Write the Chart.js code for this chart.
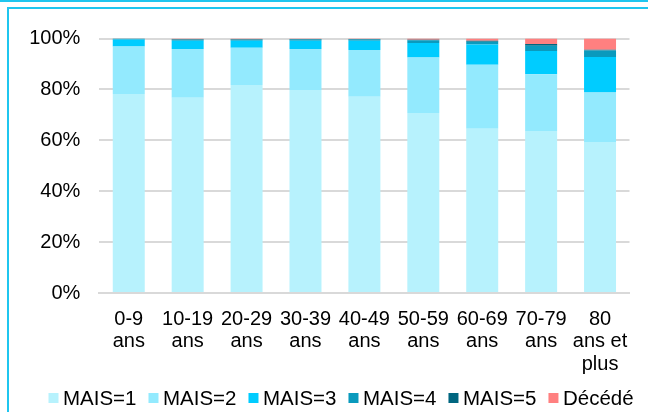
<!DOCTYPE html>
<html>
<head>
<meta charset="utf-8">
<script src="https://cdn.jsdelivr.net/npm/chart.js@4/dist/chart.umd.min.js"></script>
<style>
  html, body { margin: 0; padding: 0; background: #fff; width: 648px; height: 412px; overflow: hidden; }
  #topline { position: absolute; left: 0; top: 0; width: 648px; height: 2px; background: #1fc6ef; }
  #frame { position: absolute; left: 7px; top: 7px; width: 700px; height: 500px; border-left: 2px solid #1fc6ef; border-top: 2px solid #1fc6ef; }
  #c { position: absolute; left: 0; top: 0; }
</style>
</head>
<body>
<div id="topline"></div>
<div id="frame"></div>
<canvas id="c" width="648" height="412"></canvas>
<script>
const categories = [["0-9","ans"],["10-19","ans"],["20-29","ans"],["30-39","ans"],["40-49","ans"],["50-59","ans"],["60-69","ans"],["70-79","ans"],["80","ans et","plus"]];
const seriesNames = ["MAIS=1","MAIS=2","MAIS=3","MAIS=4","MAIS=5","Décédé"];
const mais1   = [78.2, 76.7, 81.7, 79.8, 77.1, 70.7, 64.5, 63.7, 59.3];
const mais2   = [18.7, 19.2, 14.7, 16.1, 18.4, 21.8, 25.2, 22.3, 19.5];
const mais3   = [2.7, 3.2, 2.7, 3.2, 3.6, 5.7, 7.9, 9.1, 13.9];
const mais4   = [0.3, 0.4, 0.4, 0.5, 0.5, 1.1, 1.1, 2.1, 2.6];
const mais5   = [0.1, 0.2, 0.2, 0.2, 0.2, 0.2, 0.4, 0.6, 0.3];
const decede  = [0.0, 0.3, 0.3, 0.2, 0.2, 0.5, 0.9, 2.2, 4.4];
const yTicks = [0, 20, 40, 60, 80, 100];

const colors = ["#b7f2fd", "#93eafe", "#00ccff", "#0a9abd", "#006680", "#ff8080"];
const values = [mais1, mais2, mais3, mais4, mais5, decede];

const fontFamily = "'Liberation Sans', Arial, sans-serif";
const font = { family: fontFamily, size: 20 };

// Legend drawn from the chart's own datasets (compact Excel-like spacing)
const compactLegend = {
  id: 'compactLegend',
  afterDraw(chart) {
    const ctx = chart.ctx;
    ctx.save();
    ctx.font = "20.5px " + fontFamily;
    ctx.textBaseline = 'middle';
    ctx.textAlign = 'left';
    let x = 48.5;
    const yc = 398;
    chart.data.datasets.forEach(ds => {
      ctx.fillStyle = ds.backgroundColor;
      ctx.fillRect(x, yc - 5, 10, 10);
      ctx.fillStyle = '#000';
      const tx = x + 14.5;
      ctx.fillText(ds.label, tx, yc + 1);
      x = tx + ctx.measureText(ds.label).width + 12;
    });
    ctx.restore();
  }
};

new Chart(document.getElementById('c'), {
  type: 'bar',
  data: {
    labels: categories,
    datasets: seriesNames.map((n, i) => ({
      label: n,
      data: values[i],
      backgroundColor: colors[i],
      borderWidth: 0,
      categoryPercentage: 1,
      barPercentage: 0.543
    }))
  },
  plugins: [compactLegend],
  options: {
    responsive: false,
    animation: false,
    layout: { padding: { left: 0, right: 18.5, top: 38.5, bottom: 35 } },
    plugins: {
      legend: { display: false },
      tooltip: { enabled: false }
    },
    scales: {
      x: {
        stacked: true,
        grid: { display: false, drawTicks: false },
        border: { display: true, color: '#d9d9d9', width: 2 },
        ticks: { color: '#000', font: { ...font, lineHeight: 1.12 }, padding: 15, maxRotation: 0, autoSkip: false },
        afterFit: s => { s.height = 84; }
      },
      y: {
        stacked: true,
        min: 0, max: 100,
        afterBuildTicks: s => { s.ticks = yTicks.map(v => ({ value: v })); },
        grid: { color: '#d9d9d9', lineWidth: 2, drawTicks: false },
        border: { display: false },
        ticks: { color: '#000', font: font, padding: 19, callback: v => v + '%' },
        afterFit: s => { s.width = 99.3; }
      }
    }
  }
});
</script>
</body>
</html>
